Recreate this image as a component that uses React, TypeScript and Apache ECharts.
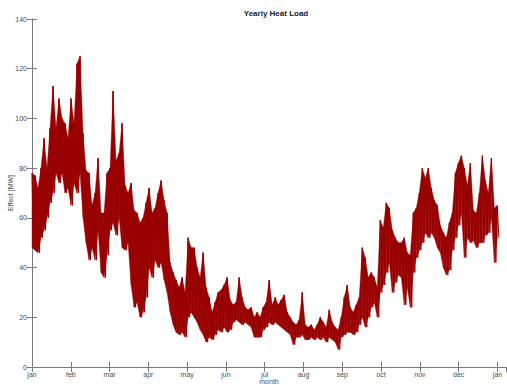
import React, { useEffect, useRef } from "react";
import * as echarts from "echarts";

// month tick labels (ticks every 730 hours)
const monthLabels = ["jan", "feb", "mar", "apr", "may", "jun", "jul", "aug", "sep", "oct", "nov", "dec", "jan"];
const hoursPerMonth = 730;
const sampleHours = 56.5; // spacing of the read samples, in hours

// upper envelope of the hourly heat load [MW], read every ~56 hours
const hi = [
  78, 77, 72, 80, 92, 80, 96, 113, 96, 108, 100, 98, 92, 108, 98, 122, 125, 94, 79, 78,
  65, 70, 84, 62, 62, 78, 80, 111, 83, 86, 98, 73, 70, 74, 63, 62, 58, 60, 66, 72,
  62, 64, 70, 75, 67, 62, 42, 38, 35, 32, 36, 30, 52, 48, 48, 40, 36, 46, 32, 28,
  22, 26, 30, 31, 33, 36, 27, 25, 26, 36, 28, 24, 23, 24, 20, 22, 20, 24, 26, 35,
  25, 28, 25, 27, 29, 22, 20, 18, 17, 19, 30, 17, 16, 17, 15, 17, 20, 18, 16, 23,
  18, 16, 15, 20, 28, 33, 24, 22, 25, 28, 48, 44, 36, 38, 36, 32, 59, 56, 66, 64,
  55, 52, 50, 50, 52, 46, 45, 62, 64, 70, 80, 76, 80, 72, 67, 65, 57, 54, 52, 58,
  62, 78, 82, 85, 80, 73, 82, 63, 62, 70, 85, 75, 70, 84, 64, 65,
];
// lower envelope of the hourly heat load [MW]
const lo = [
  48, 47, 46, 52, 55, 60, 66, 70, 78, 74, 78, 70, 72, 65, 74, 70, 78, 60, 50, 43,
  48, 43, 55, 38, 36, 45, 55, 58, 53, 60, 48, 47, 50, 33, 24, 26, 20, 22, 28, 40,
  36, 43, 40, 42, 35, 30, 22, 17, 14, 13, 14, 12, 20, 22, 20, 18, 15, 13, 10, 12,
  11, 13, 15, 14, 16, 14, 15, 18, 19, 18, 17, 18, 17, 16, 12, 12, 12, 15, 16, 18,
  17, 18, 17, 16, 15, 14, 13, 9, 12, 12, 13, 11, 11, 12, 11, 12, 11, 12, 10, 12,
  11, 10, 7, 12, 13, 14, 14, 13, 14, 17, 20, 16, 20, 24, 26, 20, 30, 33, 38, 42,
  30, 34, 37, 36, 25, 32, 24, 38, 44, 47, 50, 54, 52, 54, 52, 48, 46, 40, 37, 39,
  47, 52, 57, 62, 44, 52, 50, 51, 48, 50, 50, 53, 54, 60, 42, 52,
];

const font = "'Liberation Sans', Arial, Helvetica, sans-serif";
const axisGray = "#7a7a7a";
const textGray = "#4d4d4d";
const lineRed = "#990000";

export default function App() {
  const ref = useRef<HTMLDivElement>(null);
  useEffect(() => {
    if (!ref.current) return;
    const chart = echarts.init(ref.current, undefined, { renderer: "svg" });
    const zigzag: [number, number][] = [];
    hi.forEach((h, i) => {
      const t = i * sampleHours;
      zigzag.push([t, h]);
      zigzag.push([t + sampleHours / 2, lo[i]]);
    });
    const bandData = hi.map((h, i) => [i * sampleHours, h, lo[i]]);
    const xMax = 8920;
    const tickFmt = (v: number) => {
      const k = Math.round(v / hoursPerMonth);
      if (Math.abs(v - k * hoursPerMonth) > 1) return "";
      return monthLabels[k] ?? "";
    };
    const axisCommon = {
      axisLine: { show: true, lineStyle: { color: axisGray, width: 1 } },
      axisTick: { show: true, inside: true, length: 5, lineStyle: { color: axisGray } },
      splitLine: { show: false },
    };
    chart.setOption({
      animation: false,
      backgroundColor: "#ffffff",
      title: {
        text: "Yearly Heat Load",
        left: 271,
        top: 4,
        textAlign: "center",
        textStyle: { fontFamily: font, fontSize: 8, fontWeight: "bold", color: "#1a1a1a" },
      },
      grid: { left: 32, right: 1, top: 19, bottom: 18, containLabel: false, outerBoundsMode: "none" },
      xAxis: [
        {
          type: "value",
          min: 0,
          max: xMax,
          interval: hoursPerMonth,
          position: "bottom",
          name: "month",
          nameLocation: "middle",
          nameGap: 11,
          nameMoveOverlap: false,
          nameTextStyle: { fontFamily: font, fontSize: 7, color: textGray, verticalAlign: "top" },
          ...axisCommon,
          axisLabel: { fontFamily: font, fontSize: 7, color: textGray, margin: 4, formatter: tickFmt, showMaxLabel: false },
        },
        {
          type: "value",
          min: 0,
          max: xMax,
          interval: hoursPerMonth,
          position: "top",
          ...axisCommon,
          axisLabel: { show: false },
        },
      ],
      yAxis: [
        {
          type: "value",
          min: 0,
          max: 140,
          interval: 20,
          position: "left",
          name: "Effect [MW]",
          nameLocation: "middle",
          nameGap: 18,
          nameMoveOverlap: false,
          nameTextStyle: { fontFamily: font, fontSize: 7, color: textGray },
          ...axisCommon,
          axisLabel: { fontFamily: font, fontSize: 7, color: textGray, margin: 5 },
        },
        {
          type: "value",
          min: 0,
          max: 140,
          interval: 20,
          position: "right",
          ...axisCommon,
          axisLabel: { show: false },
        },
      ],
      series: [
        {
          type: "custom",
          data: bandData,
          encode: { x: 0, y: [1, 2] },
          silent: true,
          renderItem: (params: any, api: any) => {
            const i = params.dataIndex;
            if (i >= hi.length - 1) return null;
            const t0 = api.value(0);
            const t1 = t0 + sampleHours;
            const pts = [
              api.coord([t0, api.value(2)]),
              api.coord([t0, api.value(1)]),
              api.coord([t1, hi[i + 1]]),
              api.coord([t1, lo[i + 1]]),
            ];
            return {
              type: "polygon",
              shape: { points: pts },
              style: { fill: lineRed, stroke: lineRed, lineWidth: 0.4 },
            };
          },
        },
        {
          type: "line",
          data: zigzag,
          showSymbol: false,
          symbol: "none",
          lineStyle: { color: lineRed, width: 1 },
          silent: true,
        },
      ],
    });
    return () => chart.dispose();
  }, []);
  return <div ref={ref} style={{ width: 507, height: 385, position: "absolute", left: 0, top: 0 }} />;
}
